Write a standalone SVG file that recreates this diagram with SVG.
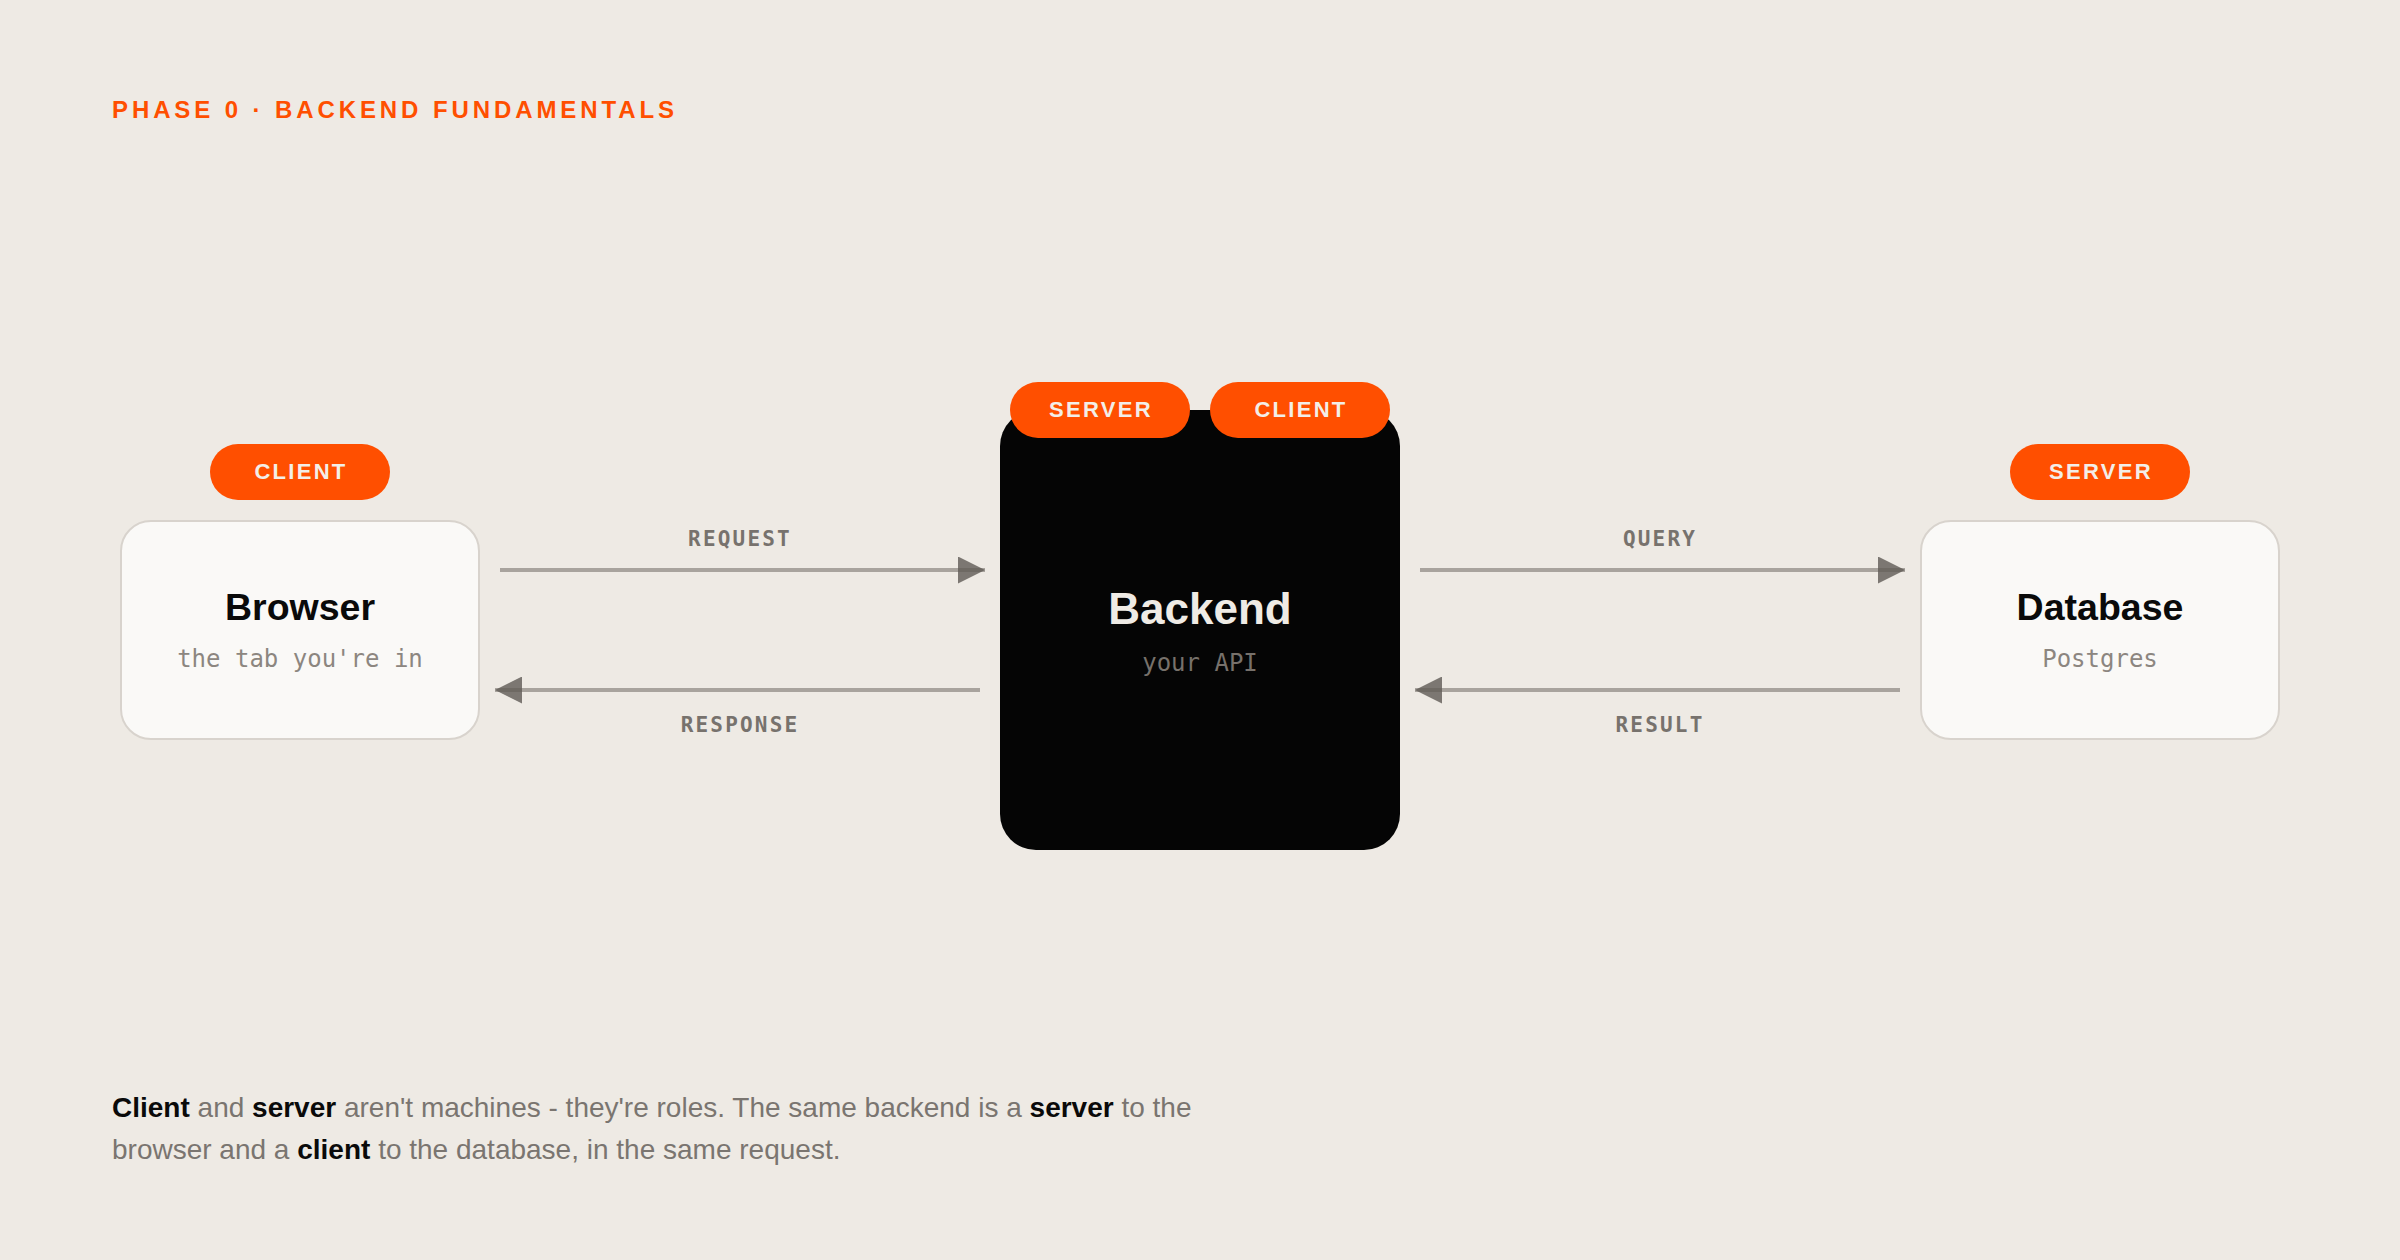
<svg xmlns="http://www.w3.org/2000/svg" width="2400" height="1260" viewBox="0 0 2400 1260">
  <style>
    .title { font-family: "Liberation Sans", Arial, sans-serif; font-weight: bold; font-size: 24px; letter-spacing: 3.9px; fill: #ff4f00; }
    .pill { fill: #ff4f00; }
    .pilltxt { font-family: "Liberation Sans", Arial, sans-serif; font-weight: bold; font-size: 22px; letter-spacing: 2.3px; fill: #f3eee8; text-anchor: middle; }
    .box { fill: #faf9f7; stroke: #d8d3cd; stroke-width: 2; }
    .name { font-family: "Liberation Sans", Arial, sans-serif; font-weight: bold; font-size: 37.5px; fill: #0a0a0a; text-anchor: middle; }
    .sub { font-family: "DejaVu Sans Mono", "Liberation Mono", monospace; font-size: 24px; fill: #8c8680; text-anchor: middle; }
    .conn { stroke: #a8a39d; stroke-width: 4; fill: none; }
    .lbl { font-family: "DejaVu Sans Mono", "Liberation Mono", monospace; font-weight: bold; font-size: 21px; letter-spacing: 2.2px; fill: #77726d; text-anchor: middle; }
    .body { font-family: "Liberation Sans", Arial, sans-serif; font-size: 28px; fill: #7a7570; }
    .b { font-weight: bold; fill: #0a0a0a; }
  </style>
  <defs>
    <marker id="arr" viewBox="0 0 27 27" markerWidth="27" markerHeight="27" refX="27" refY="13.5" orient="auto" markerUnits="userSpaceOnUse">
      <path d="M0,0 L27,13.5 L0,27 Z" fill="#5f5a55" fill-opacity="0.8"/>
    </marker>
  </defs>
  <rect x="0" y="0" width="2400" height="1260" fill="#eeeae4"/>

  <text class="title" x="112" y="118">PHASE 0 · BACKEND FUNDAMENTALS</text>

  <g id="connectors">
    <line class="conn" x1="500" y1="570" x2="985" y2="570" marker-end="url(#arr)"/>
    <text class="lbl" x="740" y="546">REQUEST</text>
    <line class="conn" x1="980" y1="690" x2="495" y2="690" marker-end="url(#arr)"/>
    <text class="lbl" x="740" y="732">RESPONSE</text>
    <line class="conn" x1="1420" y1="570" x2="1905" y2="570" marker-end="url(#arr)"/>
    <text class="lbl" x="1660" y="546">QUERY</text>
    <line class="conn" x1="1900" y1="690" x2="1415" y2="690" marker-end="url(#arr)"/>
    <text class="lbl" x="1660" y="732">RESULT</text>
  </g>

  <g id="browser">
    <rect class="pill" x="210" y="444" width="180" height="56" rx="28"/>
    <text class="pilltxt" x="301" y="478.5">CLIENT</text>
    <rect class="box" x="121" y="521" width="358" height="218" rx="30"/>
    <text class="name" x="300" y="620">Browser</text>
    <text class="sub" x="300" y="667">the tab you're in</text>
  </g>

  <g id="backend">
    <rect x="1000" y="410" width="400" height="440" rx="36" fill="#050505"/>
    <rect class="pill" x="1010" y="382" width="180" height="56" rx="28"/>
    <text class="pilltxt" x="1101" y="416.5">SERVER</text>
    <rect class="pill" x="1210" y="382" width="180" height="56" rx="28"/>
    <text class="pilltxt" x="1301" y="416.5">CLIENT</text>
    <text class="name" x="1200" y="624" style="font-size:44px; fill:#efebe5">Backend</text>
    <text class="sub" x="1200" y="671" style="fill:#77716b">your API</text>
  </g>

  <g id="database">
    <rect class="pill" x="2010" y="444" width="180" height="56" rx="28"/>
    <text class="pilltxt" x="2101" y="478.5">SERVER</text>
    <rect class="box" x="1921" y="521" width="358" height="218" rx="30"/>
    <text class="name" x="2100" y="620">Database</text>
    <text class="sub" x="2100" y="667">Postgres</text>
  </g>

  <text class="body" x="112" y="1117"><tspan class="b">Client</tspan> and <tspan class="b">server</tspan> aren't machines - they're roles. The same backend is a <tspan class="b">server</tspan> to the</text>
  <text class="body" x="112" y="1159">browser and a <tspan class="b">client</tspan> to the database, in the same request.</text>
</svg>
